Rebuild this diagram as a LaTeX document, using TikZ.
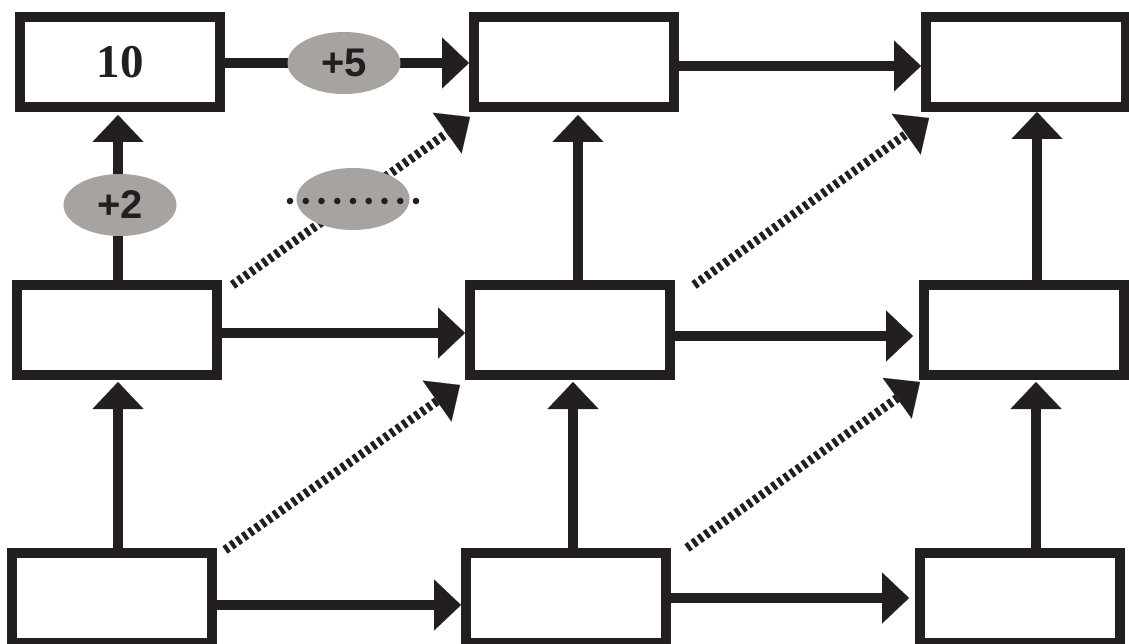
\documentclass[tikz,border=0pt]{standalone}
\usepackage{fontspec}
\setmainfont{Liberation Serif}
\newfontfamily\labelsans{Liberation Sans}
\usetikzlibrary{arrows.meta,shapes.geometric}
\definecolor{ink}{RGB}{35,31,32}
\definecolor{bubble}{RGB}{167,163,160}
\begin{document}
\begin{tikzpicture}[x=1pt,y=-1pt,
  box/.style={draw=ink,line width=10pt,minimum width=200pt,minimum height=90pt,inner sep=0pt},
  arr/.style={draw=ink,line width=10pt,-{Triangle[length=27pt,width=51pt,line width=0.1pt]}},
  darr/.style={draw=ink,line width=9pt,dash pattern=on 4pt off 3.5pt,-{Triangle[length=28pt,width=50pt,line width=0.1pt]}},
  bub/.style={ellipse,fill=bubble,minimum width=113pt,minimum height=62pt,inner sep=0pt,text=ink,font=\labelsans\bfseries\fontsize{40pt}{40pt}\selectfont}]
\clip (0,0) rectangle (1129,644);
\fill[white] (0,0) rectangle (1129,644);
% boxes
\node[box] (tl) at (120,62) {\color{ink}\bfseries\fontsize{47pt}{47pt}\selectfont 10};
\node[box] (tm) at (574,62) {};
\node[box] (tr) at (1026,62) {};
\node[box] (ml) at (116.5,330) {};
\node[box] (mc) at (570,330) {};
\node[box] (mr) at (1024,330) {};
\node[box] (bl) at (112,598) {};
\node[box] (bc) at (566,598) {};
\node[box] (br) at (1020,598) {};
% horizontal arrows
\draw[arr] ([yshift=-1pt]tl.east) -- ([yshift=-1pt]tm.west);
\draw[arr] ([yshift=-4pt]tm.east) -- ([yshift=-4pt]tr.west);
\draw[arr] ([yshift=-3pt]ml.east) -- ([yshift=-3pt]mc.west);
\draw[arr,shorten >=6pt] ([yshift=-6pt]mc.east) -- ([yshift=-6pt]mr.west);
\draw[arr] ([yshift=-7pt]bl.east) -- ([yshift=-7pt]bc.west);
\draw[arr,shorten >=6pt] (bc.east) -- (br.west);
% vertical arrows
\draw[arr,shorten >=3pt] ([xshift=1.5pt]ml.north) -- ([xshift=1.5pt]ml.north |- tl.south);
\draw[arr,shorten >=3pt] ([xshift=8pt]mc.north) -- ([xshift=8pt]mc.north |- tm.south);
\draw[arr] ([xshift=13pt]mr.north) -- ([xshift=13pt]mr.north |- tr.south);
\draw[arr,shorten >=2pt] ([xshift=6pt]bl.north) -- ([xshift=6pt]bl.north |- ml.south);
\draw[arr,shorten >=2pt] ([xshift=7pt]bc.north) -- ([xshift=7pt]bc.north |- mc.south);
\draw[arr,shorten >=2pt] ([xshift=16pt]br.north) -- ([xshift=16pt]br.north |- mr.south);
% diagonal dashed arrows
\draw[darr] ([xshift=11pt,yshift=-5pt]ml.north east) -- ([xshift=1pt,yshift=-5pt]tm.south west);
\draw[darr] ([xshift=19pt,yshift=-5pt]mc.north east) -- ([xshift=8pt,yshift=-6pt]tr.south west);
\draw[darr] ([xshift=8pt,yshift=-2pt]bl.north east) -- ([xshift=-5pt,yshift=-5pt]mc.south west);
\draw[darr] ([xshift=16pt]bc.north east) -- ([xshift=1pt,yshift=-2pt]mr.south west);
% bubbles
\node[bub] (e5) at (344,63) {+5};
\node[bub] (e2) at (120,205) {+2};
\node[bub] (ed) at (353,199) {};
\foreach \i in {-4,...,4} \fill[ink] ([xshift=\i*15.75pt,yshift=-2pt]ed.center) circle (3.3pt);
\end{tikzpicture}
\end{document}
